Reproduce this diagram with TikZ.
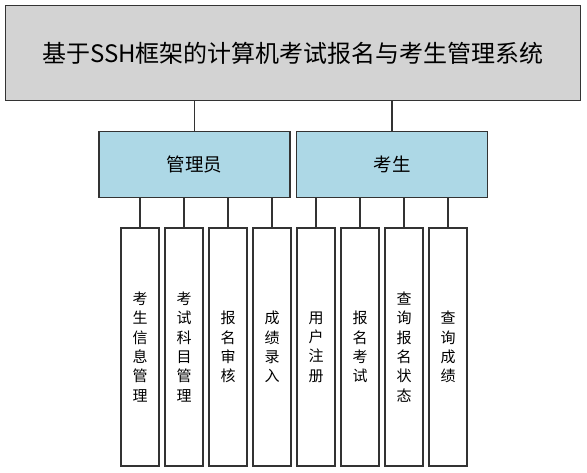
\documentclass[tikz,border=0pt]{standalone}
\usepackage{fontspec}
\setmainfont{Noto Sans CJK SC}

\begin{document}
\tikzset{every picture/.style={line width=0.75pt}}

\begin{tikzpicture}[x=1pt,y=1pt,yscale=-1,xscale=1,
  sysbox/.style={draw={rgb, 255:red, 51; green, 51; blue, 51 },line width=1.5,fill={rgb, 255:red, 211; green, 211; blue, 211 },minimum width=575,minimum height=95,inner sep=0,font=\fontsize{24}{28}\selectfont},
  rolebox/.style={draw={rgb, 255:red, 51; green, 51; blue, 51 },line width=1.5,fill={rgb, 255:red, 173; green, 216; blue, 230 },minimum width=191,minimum height=66,inner sep=0,font=\fontsize{18.5}{22}\selectfont},
  leafbox/.style={draw={rgb, 255:red, 51; green, 51; blue, 51 },line width=1.5,fill=white,minimum width=38,minimum height=238,inner sep=0,align=center,font=\fontsize{15}{19.3}\selectfont},
  link/.style={draw={rgb, 255:red, 51; green, 51; blue, 51 },line width=1.5}]
\useasboundingbox (0,0) rectangle (587,473);

% System
\node [sysbox] (sys) at (293,53) {基于SSH框架的计算机考试报名与考生管理系统};

% Roles
\node [rolebox] (admin) at (194.5,164.5) {管理员};
\node [rolebox] (stu) at (392,164.5) {考生};

% Admin functions
\node [leafbox] (infomgr) at (140,347) {考\\生\\信\\息\\管\\理};
\node [leafbox] (subjmgr) at (184,347) {考\\试\\科\\目\\管\\理};
\node [leafbox] (audit) at (228,347) {报\\名\\审\\核};
\node [leafbox] (score) at (272,347) {成\\绩\\录\\入};

% Student functions
\node [leafbox] (reg) at (316,347) {用\\户\\注\\册};
\node [leafbox] (apply) at (360,347) {报\\名\\考\\试};
\node [leafbox] (status) at (404,347) {查\\询\\报\\名\\状\\态};
\node [leafbox] (query) at (448,347) {查\\询\\成\\绩};

% Links
\draw [link] (sys.south -| admin.north) -- (admin.north) ;
\draw [link] (sys.south -| stu.north) -- (stu.north) ;
\draw [link] (admin.south -| infomgr.north) -- (infomgr.north) ;
\draw [link] (admin.south -| subjmgr.north) -- (subjmgr.north) ;
\draw [link] (admin.south -| audit.north) -- (audit.north) ;
\draw [link] (admin.south -| score.north) -- (score.north) ;
\draw [link] (stu.south -| reg.north) -- (reg.north) ;
\draw [link] (stu.south -| apply.north) -- (apply.north) ;
\draw [link] (stu.south -| status.north) -- (status.north) ;
\draw [link] (stu.south -| query.north) -- (query.north) ;

\end{tikzpicture}
\end{document}
